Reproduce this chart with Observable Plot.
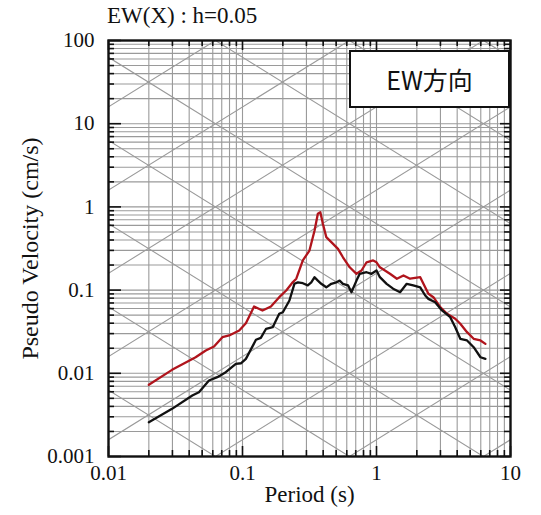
<!DOCTYPE html>
<html>
<head>
<meta charset="utf-8">
<script src="https://cdn.jsdelivr.net/npm/d3@7"></script>
<script src="https://cdn.jsdelivr.net/npm/@observablehq/plot@0.6"></script>
<style>
  html, body { margin: 0; padding: 0; background: white; }
  #wrap { position: relative; width: 541px; height: 515px; }
  #title { position: absolute; left: 107px; top: 3px; font-family: "Liberation Serif", serif; font-size: 23px; color: #111; white-space: pre; }
  #legend { position: absolute; left: 349px; top: 50px; width: 157px; height: 54px; border: 2px solid #111; background: white;
            display: flex; align-items: center; justify-content: center; font-family: "Noto Sans CJK JP", sans-serif; font-size: 25px; color: #111; }
  #chart { position: absolute; left: 0; top: 0; }
</style>
</head>
<body>
<div id="wrap">
  <div id="chart"></div>
  <div id="title">EW(X) : h=0.05</div>
  <div id="legend">EW方向</div>
</div>
<script>
// ---- Data (Period in s, pseudo velocity in cm/s) ----
const redPeriod = [0.02, 0.0298, 0.0447, 0.0532, 0.0613, 0.0708, 0.0795, 0.0945, 0.106, 0.122, 0.141, 0.163, 0.188,
  0.212, 0.237, 0.252, 0.282, 0.316, 0.345, 0.365, 0.381, 0.398, 0.422, 0.460, 0.516, 0.562, 0.631, 0.709, 0.773,
  0.843, 0.944, 1.00, 1.06, 1.26, 1.42, 1.59, 1.78, 2.12, 2.24, 2.44, 2.66, 2.99, 3.36, 3.87, 4.22, 4.74, 5.31, 5.97, 6.50];
const redSv = [0.00728, 0.0110, 0.0156, 0.0188, 0.0210, 0.0272, 0.0285, 0.0327, 0.0400, 0.0635, 0.0569, 0.0635, 0.0822,
  0.0989, 0.124, 0.137, 0.227, 0.299, 0.520, 0.826, 0.863, 0.627, 0.433, 0.377, 0.313, 0.248, 0.188, 0.157, 0.172,
  0.216, 0.227, 0.216, 0.188, 0.157, 0.137, 0.150, 0.137, 0.143, 0.119, 0.0903, 0.0822, 0.0623, 0.0519, 0.0452, 0.0394, 0.0312, 0.0260, 0.0248, 0.0226];

const blackPeriod = [0.02, 0.0298, 0.0422, 0.0473, 0.0562, 0.0649, 0.0750, 0.0892, 0.0973, 0.106, 0.126, 0.137, 0.150, 0.168,
  0.188, 0.200, 0.224, 0.244, 0.259, 0.282, 0.307, 0.326, 0.345, 0.365, 0.387, 0.422, 0.460, 0.502, 0.531, 0.562, 0.613,
  0.650, 0.709, 0.750, 0.843, 0.918, 1.00, 1.06, 1.19, 1.33, 1.50, 1.68, 1.88, 2.12, 2.31, 2.44, 2.74, 3.08, 3.55, 3.87,
  4.22, 4.74, 5.31, 5.97, 6.50];
const blackSv = [0.00258, 0.00374, 0.00541, 0.00593, 0.00819, 0.00898, 0.0103, 0.0130, 0.0132, 0.0149, 0.0253, 0.0267, 0.0343, 0.0358,
  0.0519, 0.0542, 0.0750, 0.119, 0.124, 0.121, 0.114, 0.124, 0.143, 0.130, 0.119, 0.108, 0.119, 0.124, 0.130, 0.119, 0.114,
  0.0944, 0.130, 0.157, 0.164, 0.157, 0.172, 0.143, 0.119, 0.104, 0.0944, 0.119, 0.114, 0.108, 0.0861, 0.0785, 0.0716, 0.0569, 0.0472, 0.0358,
  0.0260, 0.0248, 0.0206, 0.0156, 0.0149];

// ---- Axis ticks ----
const xTicks = [0.01, 0.1, 1, 10];
const xTickLabels = ["0.01", "0.1", "1", "10"];
const yTicks = [0.001, 0.01, 0.1, 1, 10, 100];
const yTickLabels = ["0.001", "0.01", "0.1", "1", "10", "100"];
const xLabel = "Period (s)";
const yLabel = "Pseudo Velocity (cm/s)";

// Tripartite diagonal grid: decades of displacement (cm) and acceleration (cm/s^2)
const sdDecades = [-6, -5, -4, -3, -2, -1, 0, 1, 2];
const saDecades = [-4, -3, -2, -1, 0, 1, 2, 3, 4, 5];

// ---- Derived structures ----
const red = redPeriod.map((t, i) => ({T: t, Sv: redSv[i]}));
const black = blackPeriod.map((t, i) => ({T: t, Sv: blackSv[i]}));

function minorTicks(lo, hi) {
  const out = [];
  for (let e = lo; e < hi; e++) for (let k = 1; k <= 9; k++) out.push(k * Math.pow(10, e));
  out.push(Math.pow(10, hi));
  return out;
}
const xGrid = minorTicks(-2, 1);
const yGrid = minorTicks(-3, 2);
const xMinor = xGrid.filter(v => !xTicks.some(t => Math.abs(t - v) / t < 1e-9));
const yMinor = yGrid.filter(v => !yTicks.some(t => Math.abs(t - v) / t < 1e-9));

const diag = [];
const Tends = [0.005, 20];
sdDecades.forEach(a => Tends.forEach(T => diag.push({id: "d" + a, T, Sv: 2 * Math.PI * Math.pow(10, a) / T})));
saDecades.forEach(b => Tends.forEach(T => diag.push({id: "a" + b, T, Sv: Math.pow(10, b) * T / (2 * Math.PI)})));

const W = 541, H = 515, mL = 108, mR = 31, mT = 40, mB = 59;
const innerW = W - mL - mR, innerH = H - mT - mB;
const gridColor = "#9a9a9a";
const majorLen = 10, minorLen = 6;

const chart = Plot.plot({
  width: W, height: H,
  marginLeft: mL, marginRight: mR, marginTop: mT, marginBottom: mB,
  x: {type: "log", domain: [0.01, 10]},
  y: {type: "log", domain: [0.001, 100]},
  style: {fontFamily: "Liberation Serif, serif", fontSize: "21px", color: "#111", background: "white", overflow: "visible"},
  marks: [
    Plot.ruleX(xGrid, {x: d => d, stroke: gridColor, strokeWidth: 1.1}),
    Plot.ruleY(yGrid, {y: d => d, stroke: gridColor, strokeWidth: 1.1}),
    Plot.line(diag, {x: "T", y: "Sv", z: "id", stroke: gridColor, strokeWidth: 1.1, clip: true}),
    Plot.line(red, {x: "T", y: "Sv", stroke: "#b0141c", strokeWidth: 2.3, strokeLinejoin: "round"}),
    Plot.line(black, {x: "T", y: "Sv", stroke: "#111", strokeWidth: 2.3, strokeLinejoin: "round"}),
    // inward ticks: bottom & top
    Plot.tickX(xTicks, {x: d => d, insetTop: innerH - majorLen, stroke: "#111", strokeWidth: 1.6}),
    Plot.tickX(xMinor, {x: d => d, insetTop: innerH - minorLen, stroke: "#111", strokeWidth: 1.6}),
    Plot.tickX(xTicks, {x: d => d, insetBottom: innerH - majorLen, stroke: "#111", strokeWidth: 1.6}),
    Plot.tickX(xMinor, {x: d => d, insetBottom: innerH - minorLen, stroke: "#111", strokeWidth: 1.6}),
    // inward ticks: left & right
    Plot.tickY(yTicks, {y: d => d, insetRight: innerW - 13, stroke: "#111", strokeWidth: 1.6}),
    Plot.tickY(yMinor, {y: d => d, insetRight: innerW - minorLen, stroke: "#111", strokeWidth: 1.6}),
    Plot.tickY(yTicks, {y: d => d, insetLeft: innerW - majorLen, stroke: "#111", strokeWidth: 1.6}),
    Plot.tickY(yMinor, {y: d => d, insetLeft: innerW - minorLen, stroke: "#111", strokeWidth: 1.6}),
    Plot.frame({stroke: "#111", strokeWidth: 2.4}),
    Plot.axisX(xTicks, {tickSize: 0, tickPadding: 9, tickFormat: d => xTickLabels[xTicks.indexOf(d)], label: null, fontSize: 21}),
    Plot.axisY(yTicks, {tickSize: 0, tickPadding: 14, tickFormat: d => yTickLabels[yTicks.indexOf(d)], label: null, fontSize: 21}),
    Plot.text([xLabel], {text: d => d, frameAnchor: "bottom", dy: 45, fontSize: 23}),
    Plot.text([yLabel], {text: d => d, frameAnchor: "left", textAnchor: "middle", dx: -78, rotate: -90, fontSize: 24})
  ]
});
document.getElementById("chart").appendChild(chart);
</script>
</body>
</html>
